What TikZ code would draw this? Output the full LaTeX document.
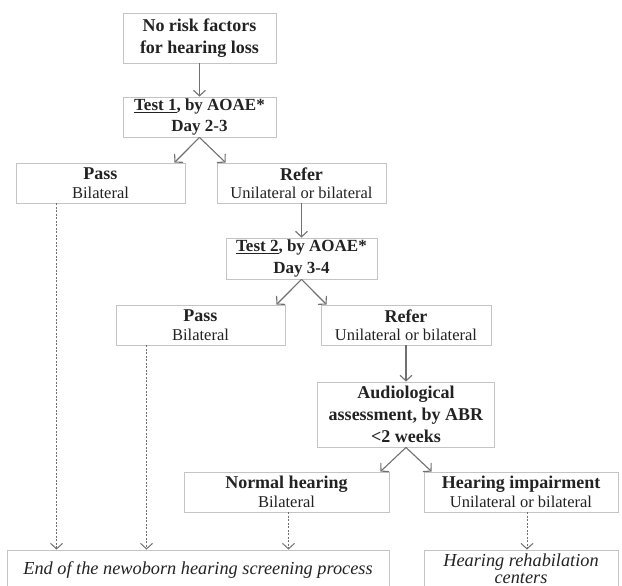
\documentclass[tikz,border=0pt]{standalone}
\usepackage{fontspec}
\setmainfont{Liberation Serif}
\usetikzlibrary{arrows.meta}

\definecolor{boxgray}{HTML}{C4C4C4}
\definecolor{arrgray}{HTML}{707070}
\definecolor{inkgray}{HTML}{222222}

\newcommand{\headfont}{\bfseries\fontsize{18}{22}\selectfont}
\newcommand{\testfont}{\bfseries\fontsize{17}{21}\selectfont}
\newcommand{\plainfont}{\fontsize{16.5}{18.5}\selectfont}
\newcommand{\lastfont}{\itshape\fontsize{18.3}{16.5}\selectfont}

\begin{document}
\begin{tikzpicture}[x=1pt,y=-1pt,
    box/.style={draw=boxgray,line width=0.9pt,align=center,inner sep=0pt,text=inkgray,font=\plainfont},
    arr/.style={draw=arrgray,line width=1.1pt,-{Straight Barb[length=5.5pt,width=12pt]}},
    dotarr/.style={arr,line width=1pt,dash pattern=on 2pt off 1.5pt}]

      \clip (0,0) rectangle (622,586);

      \node[box,font=\headfont,minimum width=153,minimum height=50] (risk) at (199.5,38) {No risk factors\\for hearing loss};

      \node[box,font=\testfont,minimum width=153,minimum height=40] (test1) at (199.5,117) {\underline{Test 1}, by AOAE*\\Day 2-3};
        \draw[arr] (risk) -- (test1);

      \node[box,minimum width=169,minimum height=40] (pass1) at (100.5,183) {{\headfont Pass}\\Bilateral};
        \draw[arr] (test1.south) -- ([xshift=-11pt]pass1.north east);

      \node[box,minimum width=169,minimum height=40] (refer1) at (301.5,183) {{\headfont Refer}\\Unilateral or bilateral};
        \draw[arr] (test1.south) -- ([xshift=9pt]refer1.north west);

      \node[box,font=\testfont,minimum width=151,minimum height=41] (test2) at (301.5,258.5) {\underline{Test 2}, by AOAE*\\[1pt]Day 3-4};
        \draw[arr] (refer1) -- (test2);

      \node[box,minimum width=169,minimum height=40] (pass2) at (200.5,325) {{\headfont Pass}\\Bilateral};
        \draw[arr] (test2.south) -- ([xshift=-9pt]pass2.north east);

      \node[box,minimum width=170,minimum height=40] (refer2) at (406,325) {{\headfont Refer}\\Unilateral or bilateral};
        \draw[arr] (test2.south) -- ([xshift=6pt]refer2.north west);

      \node[box,font=\headfont,minimum width=177,minimum height=65] (audio) at (406,414.5) {Audiological\\assessment, by ABR\\<2 weeks};
        \draw[arr] (refer2) -- (audio);

      \node[box,minimum width=205,minimum height=40] (normal) at (286.5,492) {{\headfont Normal hearing}\\Bilateral};
        \draw[arr] (audio.south) -- ([xshift=-9pt]normal.north east);

      \node[box,minimum width=194,minimum height=40] (impair) at (521,492) {{\headfont Hearing impairment}\\Unilateral or bilateral};
        \draw[arr] (audio.south) -- ([xshift=8pt]impair.north west);

      \node[box,font=\lastfont,minimum width=382,minimum height=40] (endbox) at (198,570) {End of the newoborn hearing screening process};

      \node[box,font=\lastfont,minimum width=194,minimum height=40] (rehab) at (521,570) {\raisebox{3pt}{Hearing rehabilation}\\\raisebox{3pt}{centers}};

      \coordinate (d1) at ([xshift=41pt]pass1.south west);
        \draw[dotarr] (d1) -- (d1 |- endbox.north);
      \coordinate (d2) at ([xshift=31pt]pass2.south west);
        \draw[dotarr] (d2) -- (d2 |- endbox.north);
      \coordinate (d3) at ([xshift=2pt]normal.south);
        \draw[dotarr] (d3) -- (d3 |- endbox.north);
      \coordinate (d4) at ([xshift=6pt]impair.south);
        \draw[dotarr] (d4) -- (d4 |- rehab.north);

\end{tikzpicture}
\end{document}
